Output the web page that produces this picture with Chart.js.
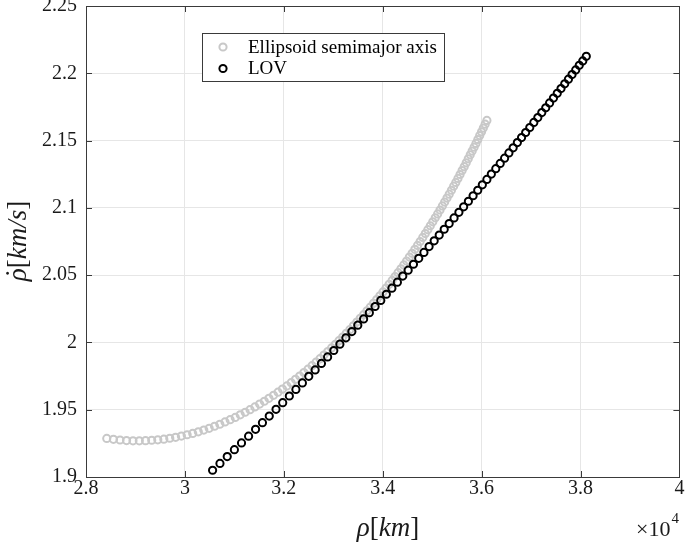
<!DOCTYPE html>
<html>
<head>
<meta charset="utf-8">
<script src="https://cdn.jsdelivr.net/npm/chart.js@4.4.1/dist/chart.umd.min.js"></script>
<style>
    html, body { margin: 0; padding: 0; background: #fff; }
    #wrap { width: 685px; height: 542px; position: relative; }
</style>
</head>
<body>
<div id="wrap"><canvas id="chart"></canvas></div>
<script>
// Axes
const xTicks = [28000, 30000, 32000, 34000, 36000, 38000, 40000];
const xTickLabels = ['2.8', '3', '3.2', '3.4', '3.6', '3.8', '4'];
const yTicks = [1.9, 1.95, 2, 2.05, 2.1, 2.15, 2.2, 2.25];
const yTickLabels = ['1.9', '1.95', '2', '2.05', '2.1', '2.15', '2.2', '2.25'];

// Ellipsoid semimajor axis (rho in km, rho dot in km/s)
const ellipsoidRho = [
    28420, 28555, 28688, 28820, 28950, 29078, 29204, 29329, 29452, 29574,
    29694, 29812, 29929, 30045, 30158, 30271, 30382, 30491, 30599, 30706,
    30811, 30915, 31018, 31119, 31219, 31317, 31415, 31511, 31606, 31699,
    31792, 31883, 31973, 32062, 32149, 32236, 32321, 32406, 32489, 32571,
    32652, 32732, 32811, 32889, 32966, 33042, 33116, 33190, 33263, 33335,
    33407, 33477, 33546, 33614, 33682, 33748, 33814, 33879, 33943, 34006,
    34069, 34130, 34191, 34251, 34310, 34369, 34426, 34483, 34539, 34595,
    34650, 34704, 34757, 34810, 34862, 34913, 34963, 35013, 35063, 35111,
    35159, 35207, 35253, 35300, 35345, 35390, 35435, 35478, 35522, 35564,
    35606, 35648, 35689, 35730, 35770, 35809, 35848, 35886, 35924, 35962,
    35999, 36035, 36071, 36107
];
const ellipsoidRhoDot = [
    1.9287, 1.9280, 1.9275, 1.9271, 1.9269, 1.9269, 1.9270, 1.9273, 1.9276, 1.9281,
    1.9288, 1.9295, 1.9304, 1.9314, 1.9324, 1.9336, 1.9349, 1.9362, 1.9377, 1.9392,
    1.9409, 1.9426, 1.9443, 1.9462, 1.9481, 1.9500, 1.9521, 1.9542, 1.9563, 1.9585,
    1.9607, 1.9630, 1.9653, 1.9677, 1.9701, 1.9726, 1.9750, 1.9776, 1.9801, 1.9827,
    1.9853, 1.9879, 1.9906, 1.9932, 1.9959, 1.9986, 2.0013, 2.0040, 2.0068, 2.0095,
    2.0123, 2.0151, 2.0179, 2.0206, 2.0235, 2.0262, 2.0291, 2.0319, 2.0347, 2.0375,
    2.0404, 2.0432, 2.0461, 2.0490, 2.0518, 2.0547, 2.0576, 2.0605, 2.0634, 2.0662,
    2.0692, 2.0721, 2.0750, 2.0780, 2.0809, 2.0838, 2.0867, 2.0896, 2.0926, 2.0955,
    2.0984, 2.1014, 2.1043, 2.1073, 2.1102, 2.1131, 2.1161, 2.1189, 2.1219, 2.1248,
    2.1277, 2.1306, 2.1335, 2.1365, 2.1394, 2.1422, 2.1451, 2.1479, 2.1508, 2.1537,
    2.1565, 2.1593, 2.1622, 2.1650
];

// LOV
const lovRho = [
    30560, 30709, 30856, 31001, 31145, 31288, 31429, 31568, 31706, 31843,
    31978, 32112, 32245, 32376, 32505, 32634, 32761, 32886, 33011, 33134,
    33256, 33376, 33496, 33614, 33730, 33846, 33961, 34074, 34186, 34297,
    34406, 34515, 34622, 34729, 34834, 34938, 35041, 35143, 35244, 35344,
    35443, 35541, 35637, 35733, 35828, 35922, 36015, 36107, 36197, 36287,
    36376, 36465, 36552, 36638, 36723, 36808, 36891, 36974, 37056, 37137,
    37217, 37297, 37375, 37453, 37530, 37606, 37681, 37756, 37829, 37903,
    37975, 38046, 38117
];
const lovRhoDot = [
    1.9050, 1.9101, 1.9152, 1.9203, 1.9253, 1.9303, 1.9354, 1.9404, 1.9453, 1.9503,
    1.9552, 1.9602, 1.9651, 1.9699, 1.9748, 1.9796, 1.9844, 1.9892, 1.9940, 1.9987,
    2.0034, 2.0081, 2.0128, 2.0175, 2.0221, 2.0267, 2.0312, 2.0358, 2.0403, 2.0448,
    2.0493, 2.0537, 2.0581, 2.0625, 2.0669, 2.0712, 2.0755, 2.0798, 2.0841, 2.0883,
    2.0925, 2.0967, 2.1008, 2.1049, 2.1090, 2.1131, 2.1171, 2.1211, 2.1251, 2.1291,
    2.1330, 2.1369, 2.1408, 2.1446, 2.1485, 2.1522, 2.1560, 2.1597, 2.1635, 2.1671,
    2.1708, 2.1744, 2.1780, 2.1816, 2.1851, 2.1887, 2.1922, 2.1956, 2.1991, 2.2025,
    2.2059, 2.2092, 2.2126
];

const seriesLabels = ['Ellipsoid semimajor axis', 'LOV'];
const seriesColors = ['#c8c8c8', '#000000'];

const serif = '"Liberation Serif", "Times New Roman", serif';
const axisColor = '#3a3a3a';
const textColor = '#1a1a1a';
const markerRadius = 3.6;
const markerWidth = 2;

function toPoints(xs, ys) {
    return xs.map((x, i) => ({ x: x, y: ys[i] }));
}

// Draw a string made of pieces (italic or not), centred on x.
// A piece with dot: true gets a dot accent over it.
function drawParts(ctx, parts, x, y, size) {
    const fontOf = p => (p.it ? 'italic ' : '') + size + 'px ' + serif;
    let total = 0;
    parts.forEach(p => {
        ctx.font = fontOf(p);
        total += ctx.measureText(p.t).width;
    });
    let cx = x - total / 2;
    ctx.textAlign = 'left';
    parts.forEach(p => {
        ctx.font = fontOf(p);
        const w = ctx.measureText(p.t).width;
        ctx.fillText(p.t, cx, y);
        if (p.dot) {
            ctx.textAlign = 'center';
            ctx.font = size + 'px ' + serif;
            ctx.fillText('\u02d9', cx + w * 0.62, y - size * 0.08);
            ctx.textAlign = 'left';
        }
        cx += w;
    });
}

function drawMarker(ctx, x, y, color) {
    ctx.beginPath();
    ctx.arc(x, y, markerRadius, 0, Math.PI * 2);
    ctx.lineWidth = markerWidth;
    ctx.strokeStyle = color;
    ctx.stroke();
}

// Box, inward ticks, legend and labels in the MATLAB way
const matlabFrame = {
    id: 'matlabFrame',
    afterDatasetsDraw(chart) {
        const ctx = chart.ctx;
        const a = chart.chartArea;
        const xs = chart.scales.x;
        const ys = chart.scales.y;
        ctx.save();

        ctx.strokeStyle = axisColor;
        ctx.lineWidth = 1;
        ctx.strokeRect(Math.round(a.left) + 0.5, Math.round(a.top) + 0.5,
            Math.round(a.right - a.left), Math.round(a.bottom - a.top));

        ctx.beginPath();
        xTicks.forEach(v => {
            const px = Math.round(xs.getPixelForValue(v)) + 0.5;
            ctx.moveTo(px, a.bottom); ctx.lineTo(px, a.bottom - 6);
            ctx.moveTo(px, a.top); ctx.lineTo(px, a.top + 6);
        });
        yTicks.forEach(v => {
            const py = Math.round(ys.getPixelForValue(v)) + 0.5;
            ctx.moveTo(a.left, py); ctx.lineTo(a.left + 6, py);
            ctx.moveTo(a.right, py); ctx.lineTo(a.right - 6, py);
        });
        ctx.stroke();

        // legend
        ctx.fillStyle = '#ffffff';
        ctx.fillRect(202, 33, 242, 48);
        ctx.strokeStyle = axisColor;
        ctx.lineWidth = 1;
        ctx.strokeRect(202.5, 33.5, 242, 48);
        ctx.font = '19px ' + serif;
        ctx.textAlign = 'left';
        ctx.textBaseline = 'middle';
        seriesLabels.forEach((label, i) => {
            const ly = 47 + i * 21.5;
            drawMarker(ctx, 223, ly, seriesColors[i]);
            ctx.fillStyle = '#000000';
            ctx.fillText(label, 248, ly + 1);
        });

        // axis titles
        ctx.fillStyle = textColor;
        ctx.textBaseline = 'alphabetic';
        drawParts(ctx, [
            { t: '\u03c1', it: true }, { t: '[', it: false },
            { t: 'km', it: true }, { t: ']', it: false }
        ], 388, 536, 27);

        ctx.save();
        ctx.translate(26, 241);
        ctx.rotate(-Math.PI / 2);
        drawParts(ctx, [
            { t: '\u03c1', it: true, dot: true }, { t: '[', it: false },
            { t: 'km/s', it: true }, { t: ']', it: false }
        ], 0, 0, 27);
        ctx.restore();

        // x10^4 exponent
        ctx.textAlign = 'left';
        ctx.font = '22px ' + serif;
        ctx.fillText('\u00d710', 636, 536);
        const w = ctx.measureText('\u00d710').width;
        ctx.font = '15px ' + serif;
        ctx.fillText('4', 636 + w + 1, 523);

        ctx.restore();
    }
};

const tickFont = { family: serif, size: 20 };

new Chart(document.getElementById('chart'), {
    type: 'scatter',
    data: {
        datasets: [
            {
                label: seriesLabels[0],
                data: toPoints(ellipsoidRho, ellipsoidRhoDot),
                borderColor: seriesColors[0],
                backgroundColor: 'rgba(0,0,0,0)',
                pointRadius: markerRadius,
                pointBorderWidth: markerWidth,
                pointHoverRadius: markerRadius,
                order: 2
            },
            {
                label: seriesLabels[1],
                data: toPoints(lovRho, lovRhoDot),
                borderColor: seriesColors[1],
                backgroundColor: 'rgba(0,0,0,0)',
                pointRadius: markerRadius,
                pointBorderWidth: markerWidth,
                pointHoverRadius: markerRadius,
                order: 1
            }
        ]
    },
    options: {
        responsive: true,
        maintainAspectRatio: false,
        animation: false,
        devicePixelRatio: 1,
        layout: { padding: { top: 6, right: 5, left: 0, bottom: 0 } },
        plugins: {
            legend: { display: false },
            tooltip: { enabled: false }
        },
        scales: {
            x: {
                type: 'linear',
                min: 28000,
                max: 40000,
                afterBuildTicks: scale => { scale.ticks = xTicks.map(v => ({ value: v })); },
                afterFit: scale => {
                    scale.height = 65;
                    scale.paddingLeft = 0;
                    scale.paddingRight = 0;
                },
                ticks: {
                    autoSkip: false,
                    maxRotation: 0,
                    padding: 0,
                    color: textColor,
                    font: tickFont,
                    callback: (v, i) => xTickLabels[i]
                },
                grid: { color: '#e6e6e6', drawTicks: false },
                border: { display: false }
            },
            y: {
                type: 'linear',
                min: 1.9,
                max: 2.25,
                afterBuildTicks: scale => { scale.ticks = yTicks.map(v => ({ value: v })); },
                afterFit: scale => {
                    scale.width = 86;
                    scale.paddingTop = 0;
                    scale.paddingBottom = 0;
                },
                ticks: {
                    autoSkip: false,
                    padding: 9,
                    color: textColor,
                    font: tickFont,
                    callback: (v, i) => yTickLabels[i]
                },
                grid: { color: '#e6e6e6', drawTicks: false },
                border: { display: false }
            }
        }
    },
    plugins: [matlabFrame]
});
</script>
</body>
</html>
